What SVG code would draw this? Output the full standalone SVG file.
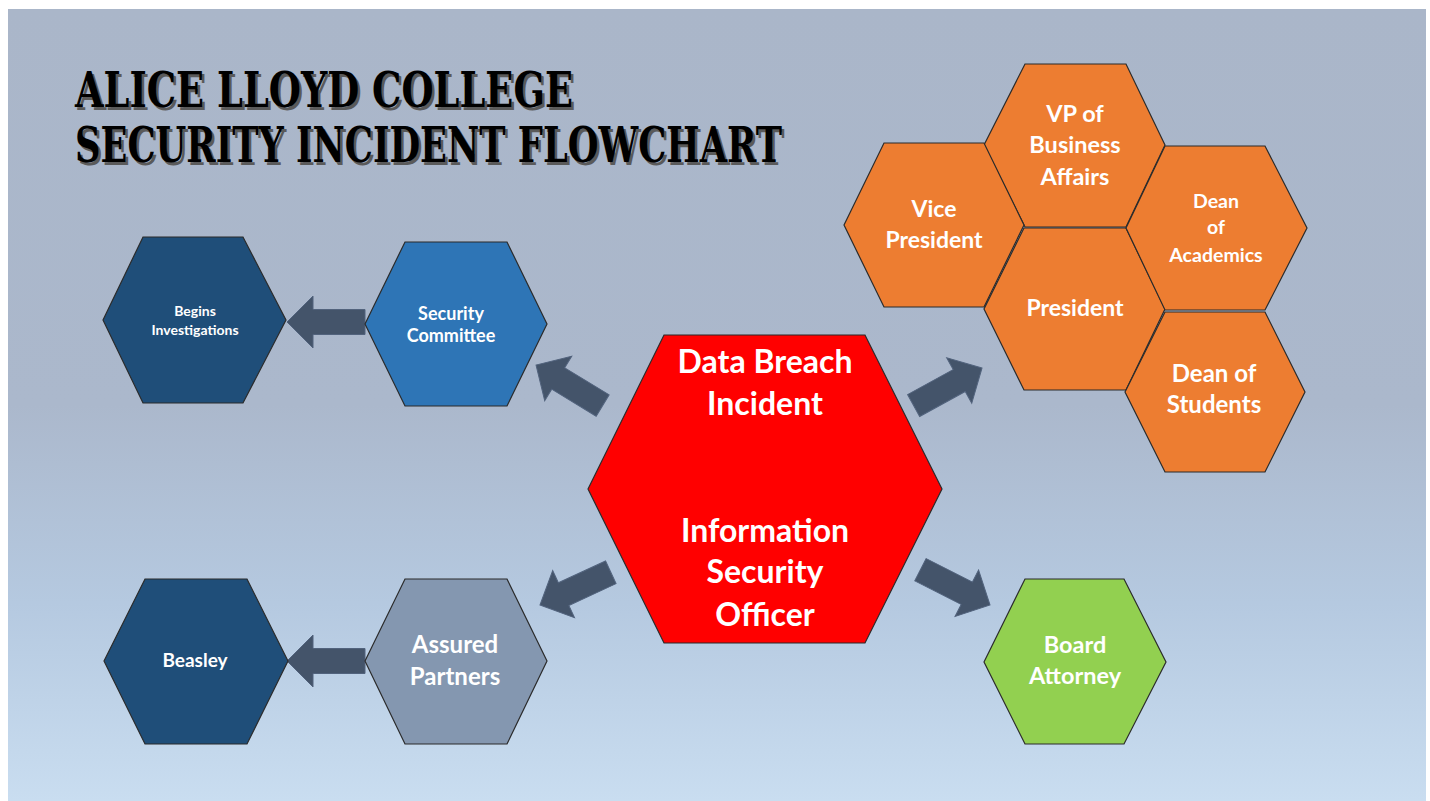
<svg xmlns="http://www.w3.org/2000/svg" xmlns:xlink="http://www.w3.org/1999/xlink" width="1430" height="801" viewBox="0 0 1430 801">
  <defs>
    <linearGradient id="bg" x1="0" y1="0" x2="0" y2="1">
      <stop offset="0" stop-color="#aab6c9"/>
      <stop offset="0.5" stop-color="#abb8cc"/>
      <stop offset="0.75" stop-color="#b5c9e0"/>
      <stop offset="1" stop-color="#c9ddf0"/>
    </linearGradient>
    <!-- block arrow, tip at origin, pointing along +x -->
    <path id="arrow" d="M0,0 L-26,-26 L-26,-12.5 L-78,-12.5 L-78,12.5 L-26,12.5 L-26,26 Z"/>
    <style>
      .hex { stroke: #2b2b2b; stroke-width: 1.2; stroke-linejoin: miter; }
      .navy { fill: #1f4e79; }
      .blue { fill: #2e75b6; }
      .slate { fill: #8497b0; }
      .red { fill: #ff0000; }
      .orange { fill: #ed7d31; }
      .green { fill: #92d050; }
      .lbl { font-family: Lato, "Open Sans", "Liberation Sans", sans-serif; font-weight: bold; fill: #ffffff; text-anchor: start; }
      .c { text-anchor: middle; }
      .arr { fill: #44546a; stroke: #52637d; stroke-width: 1; }
      .title { font-family: "DejaVu Serif Condensed", "Liberation Serif", serif; font-weight: bold; font-size: 48px; }
    </style>
  </defs>

  <!-- slide background -->
  <rect x="0" y="0" width="1430" height="801" fill="#ffffff"/>
  <rect x="8" y="9" width="1418" height="792" fill="url(#bg)"/>

  <!-- title with offset shadow -->
  <g id="title" class="title">
    <g fill="#5a5a5a" transform="translate(2.5,2.5)">
      <text x="75" y="107" textLength="498" lengthAdjust="spacingAndGlyphs">ALICE LLOYD COLLEGE</text>
      <text x="75" y="162" textLength="707" lengthAdjust="spacingAndGlyphs">SECURITY INCIDENT FLOWCHART</text>
    </g>
    <g fill="#000000">
      <text x="75" y="107" textLength="498" lengthAdjust="spacingAndGlyphs">ALICE LLOYD COLLEGE</text>
      <text x="75" y="162" textLength="707" lengthAdjust="spacingAndGlyphs">SECURITY INCIDENT FLOWCHART</text>
    </g>
  </g>

  <!-- connectors -->
  <g id="connectors" class="arr">
    <use href="#arrow" xlink:href="#arrow" transform="translate(287,322) rotate(180)"/>
    <use href="#arrow" xlink:href="#arrow" transform="translate(287,661) rotate(180)"/>
    <use href="#arrow" xlink:href="#arrow" transform="translate(536,365) rotate(211.3)"/>
    <use href="#arrow" xlink:href="#arrow" transform="translate(982,368) rotate(-28.8)"/>
    <use href="#arrow" xlink:href="#arrow" transform="translate(540,605) rotate(155.2)"/>
    <use href="#arrow" xlink:href="#arrow" transform="translate(990,605) rotate(26.9)"/>
  </g>

  <g id="begins-investigations">
    <polygon class="hex navy" points="143,237 243,237 286,320 243,403 143,403 103,320"/>
    <text class="lbl c" font-size="14" x="195" y="316">Begins</text>
    <text class="lbl c" font-size="14" x="195" y="335">Investigations</text>
  </g>

  <g id="security-committee">
    <polygon class="hex blue" points="405,242 507,242 547,324 507,406 405,406 365,324"/>
    <text class="lbl c" font-size="18" x="451" y="320">Security</text>
    <text class="lbl c" font-size="18" x="451" y="342">Committee</text>
  </g>

  <g id="beasley">
    <polygon class="hex navy" points="145,579 247,579 288,661 247,744 145,744 104,661"/>
    <text class="lbl c" font-size="19" x="195" y="667">Beasley</text>
  </g>

  <g id="assured-partners">
    <polygon class="hex slate" points="405,579 507,579 547,661 507,744 405,744 365,661"/>
    <text class="lbl c" font-size="24" x="455" y="653">Assured</text>
    <text class="lbl c" font-size="24" x="455" y="685">Partners</text>
  </g>

  <g id="data-breach-incident">
    <polygon class="hex red" points="664,335 865,335 942,489 865,643 664,643 588,489"/>
    <text class="lbl c" font-size="32" x="765" y="373">Data Breach</text>
    <text class="lbl c" font-size="32" x="765" y="415">Incident</text>
    <text class="lbl c" font-size="32" x="765" y="542">Information</text>
    <text class="lbl c" font-size="32" x="765" y="583">Security</text>
    <text class="lbl c" font-size="32" x="765" y="626">Officer</text>
  </g>

  <g id="vp-business-affairs">
    <polygon class="hex orange" points="1025,64 1126,64 1165,145 1126,227 1025,227 984,145"/>
    <text class="lbl c" font-size="23.5" x="1075" y="122">VP of</text>
    <text class="lbl c" font-size="23.5" x="1075" y="153">Business</text>
    <text class="lbl c" font-size="23.5" x="1075" y="185">Affairs</text>
  </g>

  <g id="vice-president">
    <polygon class="hex orange" points="884,143 984,143 1024,225 984,307 884,307 844,225"/>
    <text class="lbl c" font-size="23" x="934" y="217">Vice</text>
    <text class="lbl c" font-size="23" x="934" y="248">President</text>
  </g>

  <g id="president">
    <polygon class="hex orange" points="1024,228 1126,228 1165,309 1126,390 1024,390 984,309"/>
    <text class="lbl c" font-size="23" x="1075" y="316">President</text>
  </g>

  <g id="dean-academics">
    <polygon class="hex orange" points="1165,146 1265,146 1307,228 1265,310 1165,310 1126,228"/>
    <text class="lbl c" font-size="19.5" x="1216" y="208">Dean</text>
    <text class="lbl c" font-size="19.5" x="1216" y="234">of</text>
    <text class="lbl c" font-size="19.5" x="1216" y="262">Academics</text>
  </g>

  <g id="dean-students">
    <polygon class="hex orange" points="1165,312 1265,312 1305,392 1265,472 1165,472 1125,392"/>
    <text class="lbl c" font-size="24" x="1214" y="382">Dean of</text>
    <text class="lbl c" font-size="24" x="1214" y="413">Students</text>
  </g>

  <g id="board-attorney">
    <polygon class="hex green" points="1025,579 1124,579 1166,662 1124,744 1025,744 984,662"/>
    <text class="lbl c" font-size="23.5" x="1075" y="653">Board</text>
    <text class="lbl c" font-size="23.5" x="1075" y="684">Attorney</text>
  </g>
</svg>
